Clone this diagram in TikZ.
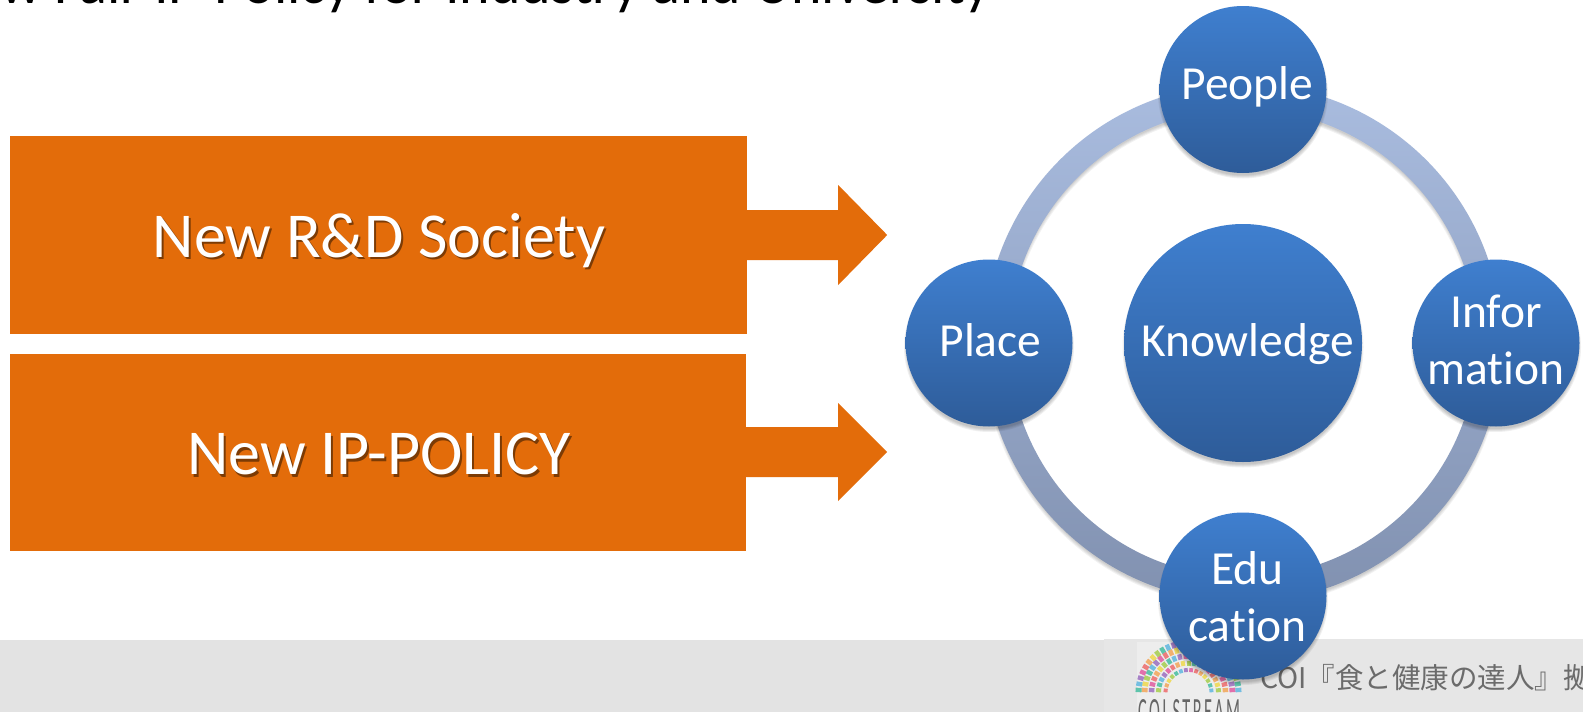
\documentclass[tikz,border=0pt]{standalone}
\usepackage{fontspec}
\usepackage{graphicx}
\setmainfont{Carlito}[Ligatures=NoCommon]
\newfontfamily\cjkfont{Noto Sans CJK JP}
\usetikzlibrary{calc}
\definecolor{orangebox}{HTML}{E36C0A}
\definecolor{circtop}{HTML}{3F7FCF}
\definecolor{circbot}{HTML}{2E5C99}
\definecolor{ringtop}{HTML}{A9BCDF}
\definecolor{ringbot}{HTML}{8191B0}
\definecolor{footgray}{HTML}{E3E3E3}
\definecolor{lc0}{HTML}{EE6B6B}
\definecolor{lc1}{HTML}{F2A65A}
\definecolor{lc2}{HTML}{EFD84E}
\definecolor{lc3}{HTML}{A6CE4E}
\definecolor{lc4}{HTML}{45BDA0}
\definecolor{lc5}{HTML}{5FB6E0}
\definecolor{lc6}{HTML}{9B6FC0}
\definecolor{lc7}{HTML}{E05BA0}
\tikzset{
  boxnode/.style={fill=orangebox,draw=none,rectangle,inner sep=0pt},
  boxtext/.style={anchor=base,text=white,font=\fontsize{64pt}{70pt}\selectfont,inner sep=0pt},
  boxshadow/.style={anchor=base,text=black,text opacity=.45,font=\fontsize{64pt}{70pt}\selectfont,inner sep=0pt},
  ball/.style={circle,inner sep=0pt,top color=circtop,bottom color=circbot,draw=none,text=white,align=center,
    font=\fontsize{47.5pt}{58pt}\selectfont},
  smallball/.style={ball,minimum size=167pt},
  bigball/.style={ball,minimum size=238pt},
  balllabel/.style={inner sep=0pt,text=white,align=center,font=\fontsize{47.5pt}{57pt}\selectfont},
  toptext/.style={text height=32pt,text depth=13pt},
  midtext/.style={text height=38pt,text depth=12pt}
}
\newcommand{\softshadow}[2]{%
  \foreach \g in {0,1,2,3}{
    \fill[black,opacity=.06] ($(#1)+(0,4)$) circle [radius=#2+1.5pt-\g pt];
  }%
}
\begin{document}
\begin{tikzpicture}[x=1pt,y=-1pt]
\useasboundingbox (0,0) rectangle (1583,712);
\clip (0,0) rectangle (1583,712);
\fill[white] (0,0) rectangle (1583,712);
% title
\node[anchor=base west,inner sep=0pt,font=\fontsize{58pt}{60pt}\selectfont,text=black] (title) at (0,4) {w Fair IP-Policy for Industry and University};
% footer
\fill[footgray] (0,640) rectangle (1583,712);
\fill[footgray!90!white] (1104,639) rectangle (1583,712);
% logo
\coordinate (logoc) at (1188.5,693);
\fill[white!93!black] (1137,642) rectangle (1240,712);
\foreach \r/\n/\l/\k in {23/14/4/0,30/17/5/3,37/20/5.5/6,44/23/6/1,50/26/6/4}{
  \pgfmathsetmacro\w{3.14159*\r/\n*0.72}
  \pgfmathtruncatemacro\last{\n-1}
  \foreach \i in {0,...,\last}{
    \pgfmathsetmacro\ang{180-(\i+.5)/\n*180}
    \pgfmathtruncatemacro\c{mod(\i+\k,8)}
    \draw[color=lc\c,opacity=.85,line width=\w pt] ($(logoc)+({(\r-\l/2)*cos(\ang)},{-(\r-\l/2)*sin(\ang)})$) -- ($(logoc)+({(\r+\l/2)*cos(\ang)},{-(\r+\l/2)*sin(\ang)})$);
  }
}
\node[anchor=north west,inner sep=0pt,text=black!60] (logotext) at (1138,699) {\resizebox{102pt}{24pt}{\addfontfeature{LetterSpace=15}COI STREAM}};
\node[anchor=base west,inner sep=0pt,text=black!58,font=\fontsize{28.5pt}{30pt}\selectfont\cjkfont] (foot) at (1260,688) {COI『食と健康の達人』拠};
% boxes and arrows
\node[boxnode,minimum width=737pt,minimum height=198pt] (b1) at (378.5,235) {};
\node[boxnode,minimum height=197pt,minimum width=736pt] (b2) at (378,452) {};
\fill[orangebox] ($(b1.east)+(-1,-25)$) -- ++(92,0) -- ++(0,-25) -- ($(b1.east)+(140,0)$) -- ($(b1.east)+(91,50)$) -- ++(0,-25) -- ++(-92,0) -- cycle;
\fill[orangebox] ($(b2.east)+(-1,-25)$) -- ++(93,0) -- ++(0,-24) -- ($(b2.east)+(141,0)$) -- ($(b2.east)+(92,49)$) -- ++(0,-24) -- ++(-92,0) -- cycle;
\node[boxshadow] (s1) at ($(b1)+(2.5,24.5)$) {New R\&D Society};
\node[boxtext] (t1) at ($(b1)+(0.5,22)$) {New R\&D Society};
\node[boxshadow] (s2) at ($(b2)+(3,25)$) {New IP-POLICY};
\node[boxtext] (t2) at ($(b2)+(1,22.5)$) {New IP-POLICY};
% ring
\coordinate (cen) at (1243,343);
\foreach \g in {0,1,2,3}{
  \fill[black,opacity=.05,even odd rule] ($(cen)+(0,4)$) circle [radius=260pt-\g pt] circle [radius=233pt+\g pt];
}
\shade[top color=ringtop,bottom color=ringbot,even odd rule] (cen) circle [radius=259pt] circle [radius=234pt];
% circles
\softshadow{1243,89.5}{83.5pt}
\softshadow{1243,343}{119pt}
\softshadow{989,343}{83.5pt}
\softshadow{1496,343}{83.5pt}
\softshadow{1243,596}{83.5pt}
\node[smallball,toptext] (people) at (1243,89.5) {\hspace*{9pt}People};
\node[bigball,midtext] (know) at (1243,343) {\hspace*{9pt}Knowledge};
\node[smallball,midtext] (place) at (989,343) {\hspace*{3pt}Place};
\node[smallball] (info) at (1496,343) {};
\node[balllabel] (infot) at ($(info)+(0,-3)$) {Infor\\mation};
\node[smallball] (edu) at (1243,596) {};
\node[balllabel] (edut) at ($(edu)+(4.5,1)$) {Edu\\cation};
\end{tikzpicture}
\end{document}
